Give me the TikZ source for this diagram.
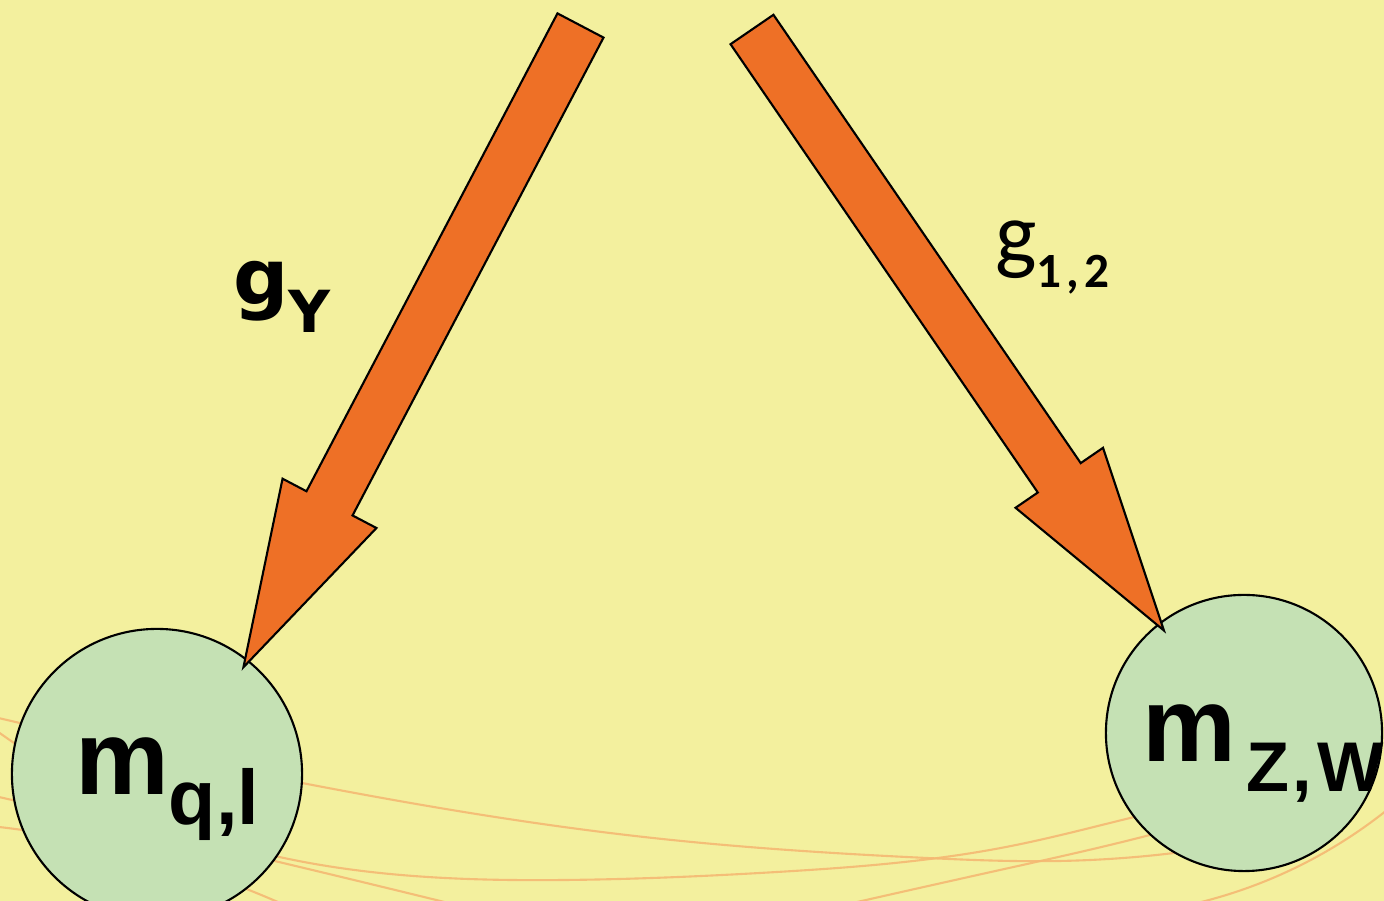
\documentclass[tikz,border=0pt]{standalone}
\usepackage{fontspec}
\setmainfont{Liberation Sans}
\newfontfamily\dejavu{DejaVu Sans}
\newfontfamily\carlito{Carlito}
\usetikzlibrary{calc,hobby}
\definecolor{paper}{RGB}{243,240,158}
\definecolor{massgreen}{RGB}{197,225,180}
\definecolor{arroworange}{RGB}{238,112,38}
\definecolor{thread}{RGB}{245,185,115}
\tikzset{
    mass/.style={
        circle, draw=black, line width=0.6pt, fill=massgreen, inner sep=0pt
    },
    fat arrow/.style={
        fill=arroworange, draw=black, line width=0.6pt, line join=miter
    },
    thread line/.style={
        draw=thread, line width=0.6pt, opacity=0.9
    },
    lbl/.style={
        anchor=base west, inner sep=0pt, outer sep=0pt
    }
}
% fat outlined arrow from #1 (tail centre) to #2 (tip)
\newcommand\fatarrow[2]{%
    \coordinate (hb) at ($(#2)!1.85cm!(#1)$);
    \filldraw[fat arrow]
    ($(#1)!0.26cm!90:(#2)$) -- ($(hb)!0.26cm!90:(#2)$) -- ($(hb)!0.53cm!90:(#2)$)
    -- (#2)
    -- ($(hb)!0.53cm!-90:(#2)$) -- ($(hb)!0.26cm!-90:(#2)$) -- ($(#1)!0.26cm!-90:(#2)$)
    -- cycle;
}

\begin{document}
\begin{tikzpicture}[x=0.01cm, y=-0.01cm, use Hobby shortcut]
    \fill[paper] (0,0) rectangle (1384,901);
    \useasboundingbox (0,0) rectangle (1384,901);

    \begin{scope}
    \clip (0,0) rectangle (1384,901);
    \draw[thread line] (-10,716)..(302,783)..(653,838)..(927,858)..(1059,861)..(1174,853)..(1300,830);
    \draw[thread line] (-10,726)..(262,853)..(565,880)..(777,872)..(1006,847)..(1130,818)..(1250,790);
    \draw[thread line] (-10,795)..(262,858)..(485,912);
    \draw[thread line] (-10,826)..(200,872)..(300,912);
    \draw[thread line] (800,915)..(1000,870)..(1150,835)..(1300,790);
    \draw[thread line] (1150,912)..(1297,867)..(1392,806);

    \node[mass, minimum size=2.9cm] (ml) at (157,774) {};
    \node[mass, minimum size=2.76cm] (mr) at (1244,733) {};

    \node[lbl, font=\bfseries\fontsize{30}{30}\selectfont] (tzw) at (1142,762)
        {m\kern3pt\lower8.5pt\hbox{\fontsize{20}{20}\selectfont Z\kern1pt,\kern1.5pt W}};
    \end{scope}

    \coordinate (tailL) at (580.5,25.5);
    \coordinate (tailR) at (752,29.5);
    \coordinate (tipL) at ($(ml.center)!0.94!(ml.51)$);
    \coordinate (tipR) at ($(mr.center)!0.935!(mr.128.4)$);

    \fatarrow{tailL}{tipL}
    \fatarrow{tailR}{tipR}

    \node[lbl, font=\dejavu\bfseries\fontsize{22}{24}\selectfont] (gY) at (233,305)
        {g\lower7.7pt\hbox{\fontsize{16.5}{18}\selectfont Y}};
    \node[lbl, font=\carlito\fontsize{25}{26}\selectfont] (g12) at (995,264)
        {g\lower6.8pt\hbox{\bfseries\fontsize{14}{14}\selectfont 1\kern1.5pt,\kern1.5pt2}};
    \node[lbl, font=\bfseries\fontsize{30}{30}\selectfont] (tql) at (75,795)
        {m\lower8.25pt\hbox{\fontsize{22}{22}\selectfont q,l}};
\end{tikzpicture}
\end{document}
